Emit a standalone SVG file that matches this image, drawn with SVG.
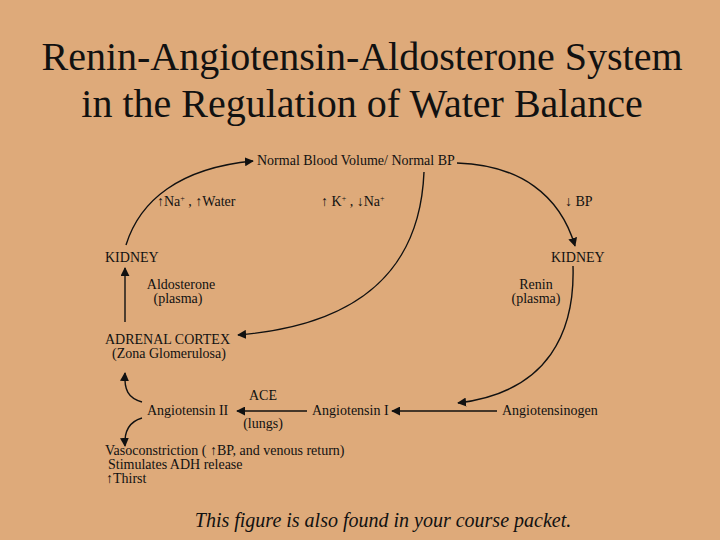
<svg xmlns="http://www.w3.org/2000/svg" width="720" height="540" viewBox="0 0 720 540">
<defs>
<marker id="ah" viewBox="0 0 10 10" refX="9" refY="5" markerWidth="9" markerHeight="9" markerUnits="userSpaceOnUse" orient="auto">
<path d="M0,0 L10,5 L0,10 Z" fill="#111"/>
</marker>
<style>
.t{font-family:"Liberation Serif","Times New Roman",serif;fill:#111;font-size:14px}
.title{font-family:"Liberation Serif","Times New Roman",serif;fill:#111;font-size:40px}
.foot{font-family:"Liberation Serif","Times New Roman",serif;fill:#111;font-size:20px;font-style:italic}
.c{fill:none;stroke:#111;stroke-width:1.4;marker-end:url(#ah)}
.sm{font-size:8px}
</style>
</defs>
<rect width="720" height="540" fill="#DEAA7A"/>
<g id="title">
<text class="title" x="362" y="70" text-anchor="middle">Renin-Angiotensin-Aldosterone System</text>
<text class="title" x="362" y="117" text-anchor="middle">in the Regulation of Water Balance</text>
</g>
<g id="connectors">
<path class="c" d="M126,245 C140,200 180,168 253,161"/>
<path class="c" d="M457,163 C520,165 560,195 575,246"/>
<path class="c" d="M424,172 C420,270 360,325 238,335"/>
<path class="c" d="M125,322 L125,268"/>
<path class="c" d="M573,266 C575,330 550,392 458,403"/>
<path class="c" d="M497,411 L392,411"/>
<path class="c" d="M307,411 L237,411"/>
<path class="c" d="M142,402 C128,398 124,390 125,373"/>
<path class="c" d="M142,418 C128,422 124,432 125,446"/>
</g>
<g id="normal-bp"><text class="t" x="257" y="165">Normal Blood Volume/ Normal BP</text></g>
<g id="na-water"><text class="t" x="157" y="206">↑Na<tspan class="sm" dy="-5">+</tspan><tspan dy="5"> , ↑Water</tspan></text></g>
<g id="k-na"><text class="t" x="321" y="206">↑ K<tspan class="sm" dy="-5">+</tspan><tspan dy="5"> , ↓Na</tspan><tspan class="sm" dy="-5">+</tspan></text></g>
<g id="bp-down"><text class="t" x="565" y="206">↓ BP</text></g>
<g id="kidney-left"><text class="t" x="105" y="262">KIDNEY</text></g>
<g id="kidney-right"><text class="t" x="551" y="262">KIDNEY</text></g>
<g id="aldosterone"><text class="t" x="181" y="289" text-anchor="middle">Aldosterone</text><text class="t" x="178" y="303" text-anchor="middle">(plasma)</text></g>
<g id="renin"><text class="t" x="536" y="289" text-anchor="middle">Renin</text><text class="t" x="536" y="303" text-anchor="middle">(plasma)</text></g>
<g id="adrenal"><text class="t" x="105" y="344">ADRENAL CORTEX</text><text class="t" x="112" y="358">(Zona Glomerulosa)</text></g>
<g id="angiotensinogen"><text class="t" x="502" y="415">Angiotensinogen</text></g>
<g id="angiotensin1"><text class="t" x="312" y="415">Angiotensin I</text></g>
<g id="ace"><text class="t" x="263" y="400" text-anchor="middle">ACE</text><text class="t" x="263" y="428" text-anchor="middle">(lungs)</text></g>
<g id="angiotensin2"><text class="t" x="147" y="415">Angiotensin II</text></g>
<g id="effects">
<text class="t" x="105" y="455">Vasoconstriction ( ↑BP, and venous return)</text>
<text class="t" x="108" y="469">Stimulates ADH release</text>
<text class="t" x="106" y="483">↑Thirst</text>
</g>
<g id="footer"><text class="foot" x="383" y="527" text-anchor="middle">This figure is also found in your course packet.</text></g>
</svg>
